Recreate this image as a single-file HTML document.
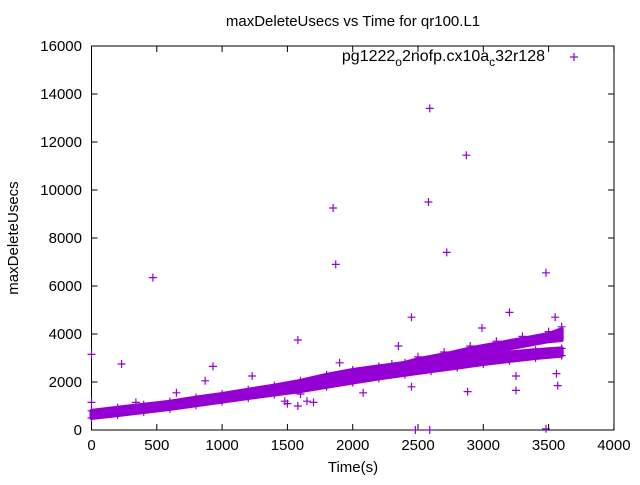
<!DOCTYPE html>
<html><head><meta charset="utf-8"><style>
body{margin:0;background:#fff}
svg{font-family:"Liberation Sans",sans-serif;font-size:15px}
</style></head><body>
<svg width="640" height="480" xmlns="http://www.w3.org/2000/svg">
<rect width="640" height="480" fill="#fff"/>
<text x="353" y="26" text-anchor="middle">maxDeleteUsecs vs Time for qr100.L1</text>
<g id="axes"></g>
<g id="band"></g>
<g id="pts"></g>
<text x="18" y="238" transform="rotate(-90 18 238)" text-anchor="middle">maxDeleteUsecs</text>
<text x="353" y="472" text-anchor="middle">Time(s)</text>
<g>
<text x="545" y="61" text-anchor="end" font-size="16">pg1222<tspan dy="5" font-size="12">o</tspan><tspan dy="-5">2nofp.cx10a</tspan><tspan dy="5" font-size="12">c</tspan><tspan dy="-5">32r128</tspan></text>
<path d="M570 57h8M574 53v8" stroke="#9400d3" stroke-width="1.2"/>
</g>
</svg>
<script>
const xTicks=[0,500,1000,1500,2000,2500,3000,3500,4000];
const yTicks=[0,2000,4000,6000,8000,10000,12000,14000,16000];
const bandTimes=[0,200,400,600,800,1000,1200,1400,1600,1800,2000,2200,2400,2600,2800,3000,3200,3400,3600];
const bandLow=[500,620,750,880,1030,1180,1330,1480,1620,1800,1980,2150,2300,2450,2600,2750,2880,3000,3100];
const bandHigh=[800,930,1050,1180,1350,1500,1680,1850,2050,2300,2500,2650,2800,2920,3020,3130,3230,3330,3400];
const upperTimes=[2300,2500,2700,2900,3100,3300,3500,3600];
const upperLow=[2350,2650,2850,3100,3300,3500,3700,3750];
const upperHigh=[2650,2950,3150,3400,3600,3800,4000,4200];
const outT=[0,0,230,470,930,870,1230,1580,1480,1580,1650,1700,1850,1870,2080,2450,2450,2590,2580,2720,2870,2880,2990,3200,3250,3250,3480,3480,3560,3570,3550,2480,2590,1500,1600,1900,2350,650,340];
const outV=[3150,1150,2750,6350,2650,2050,2250,3750,1200,1000,1200,1150,9250,6900,1550,4700,1800,13400,9500,7400,11450,1600,4250,4900,1650,2250,6550,50,2350,1850,4700,0,0,1100,1500,2800,3500,1550,1150];
const X=t=>91.5+t*130.6/1000, Y=v=>430-v*0.024;
const NS="http://www.w3.org/2000/svg";
function mk(tag,attrs,parent){const e=document.createElementNS(NS,tag);for(const k in attrs)e.setAttribute(k,attrs[k]);parent.appendChild(e);return e;}
const ax=document.getElementById('axes');
const frame=mk('rect',{x:91.5,y:46,width:522.5,height:384,fill:'none',stroke:'#000'},ax);


xTicks.forEach(t=>{const x=X(t);
 mk('path',{d:`M${x} 430v-6M${x} 46v6`,stroke:'#000'},ax);
 const tx=mk('text',{x:x,y:450,'text-anchor':'middle'},ax);tx.textContent=t;
 
 });
yTicks.forEach(v=>{const y=Y(v);
 mk('path',{d:`M91.5 ${y}h6M614 ${y}h-6`,stroke:'#000'},ax);
 const tx=mk('text',{x:82,y:y+5,'text-anchor':'end'},ax);tx.textContent=v;
 
 });
const bg=document.getElementById('band');
function band(ts,lo,hi,name){
 let d='M'+ts.map((t,i)=>X(t)+' '+Y(hi[i])).join('L');
 d+='L'+ts.map((t,i)=>X(t)+' '+Y(lo[i])).reverse().join('L')+'Z';
 const p=mk('path',{d:d,fill:'#9400d3',stroke:'#9400d3','stroke-width':4,'stroke-linejoin':'round'},bg);
 
 
}
band(bandTimes,bandLow,bandHigh,'lower-band');
band(upperTimes,upperLow,upperHigh,'upper-band');
const pg=document.getElementById('pts');
function plus(t,v,name){const x=X(t),y=Y(v);
 const p=mk('path',{d:`M${x-4} ${y}h8M${x} ${y-4}v8`,stroke:'#9400d3','stroke-width':1.2},pg);
 
 }
bandTimes.forEach((t,i)=>{plus(t,bandLow[i],'band-point');plus(t,bandHigh[i],'band-point');});
upperTimes.forEach((t,i)=>{plus(t,upperHigh[i]+100,'band-point');});
outT.forEach((t,i)=>plus(t,outV[i],'outlier-point'));
</script>
</body></html>
